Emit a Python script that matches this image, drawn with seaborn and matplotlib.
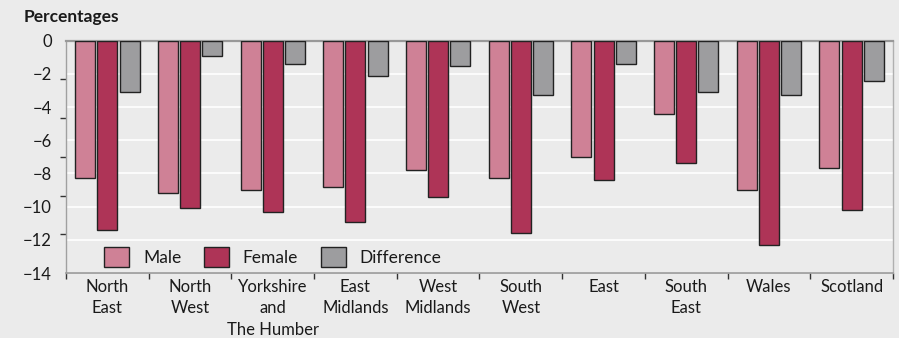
import numpy as np
import pandas as pd
import matplotlib
matplotlib.use("Agg")
import matplotlib.pyplot as plt
import seaborn as sns

regions = ["North\nEast", "North\nWest", "Yorkshire\nand\nThe Humber", "East\nMidlands",
           "West\nMidlands", "South\nWest", "East", "South\nEast", "Wales", "Scotland"]
male = [-8.3, -9.2, -9.0, -8.8, -7.8, -8.3, -7.0, -4.4, -9.0, -7.7]
female = [-11.4, -10.1, -10.3, -10.9, -9.4, -11.6, -8.4, -7.4, -12.3, -10.2]
difference = [-3.1, -0.9, -1.4, -2.1, -1.5, -3.3, -1.4, -3.1, -3.3, -2.4]
series_names = ["Male", "Female", "Difference"]
colors = ["#cf8196", "#ae3457", "#9d9d9f"]
yticks = [0, -2, -4, -6, -8, -10, -12, -14]

df = pd.DataFrame({
    "region": regions * 3,
    "series": [s for s in series_names for _ in regions],
    "value": male + female + difference,
})

sns.set_theme(style="white")
plt.rcParams["font.family"] = ["Lato", "DejaVu Sans"]
BG = "#ebebeb"
TXT = "#1a1a1a"

fig = plt.figure(figsize=(8.99, 3.38), dpi=100, facecolor=BG)
ax = fig.add_axes([0.0734, 0.1923, 0.9199, 0.6873], facecolor=BG)

sns.barplot(data=df, x="region", y="value", hue="series", palette=colors,
            width=0.805, gap=0.1, edgecolor="#222222", linewidth=1.0,
            saturation=1, ax=ax, zorder=3)

ax.set_ylim(-14, 0)
ax.set_xlim(-0.5, len(regions) - 0.5)
ax.set_yticks(yticks)
ax.set_yticklabels([("\u2212" + str(-v)) if v < 0 else "0" for v in yticks])
ax.yaxis.grid(True, color="white", linewidth=1.2, zorder=0)
ax.set_axisbelow(True)
ax.tick_params(axis="y", which="major", length=0, pad=10, labelsize=12, labelcolor=TXT)
ax.set_yticks(np.linspace(0, -14, 7), minor=True)
ax.tick_params(axis="y", which="minor", length=4, width=1, color="#333333", direction="out", left=True)

ax.set_xticks(range(len(regions)))
ax.set_xticklabels(regions, linespacing=1.45)
ax.tick_params(axis="x", which="major", length=0, pad=4, labelsize=12, labelcolor=TXT)
ax.set_xticks(np.arange(-0.5, len(regions), 1.0), minor=True)
ax.tick_params(axis="x", which="minor", length=4, width=1, color="#333333", direction="out", bottom=True)

ax.set_xlabel("")
ax.set_ylabel("")

for side in ["left", "right", "bottom", "top"]:
    ax.spines[side].set_visible(True)
ax.spines["top"].set_color("#999999")
ax.spines["top"].set_linewidth(1.6)
ax.spines["left"].set_color("#a0a0a0")
ax.spines["right"].set_color("#b0b0b0")
ax.spines["bottom"].set_color("#999999")
ax.spines["left"].set_linewidth(1.0)
ax.spines["right"].set_linewidth(1.0)
ax.spines["bottom"].set_linewidth(1.2)

leg = ax.legend(loc="center", bbox_to_anchor=(0.25, 0.069), ncol=3, frameon=False,
                fontsize=12.5, handlelength=1.45, handleheight=1.45, handletextpad=0.8,
                columnspacing=1.3, borderpad=0, title=None)
for t in leg.get_texts():
    t.set_color(TXT)

fig.text(0.026, 0.95, "Percentages", fontsize=12.5, fontweight="bold", color=TXT,
         ha="left", va="center")

fig.savefig("out.png", dpi=100, facecolor=BG)
